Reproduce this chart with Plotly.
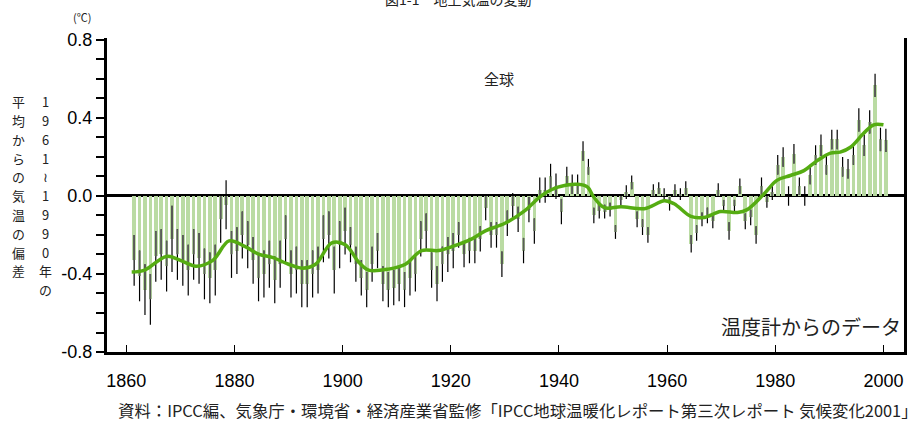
import plotly.graph_objects as go

# ---------------- data ----------------
years = list(range(1861, 2001))
anomaly = [
    -0.33, -0.41, -0.48, -0.53, -0.31, -0.30, -0.36, -0.22, -0.30, -0.33,   # 1861-1870
    -0.38, -0.30, -0.32, -0.40, -0.42, -0.38, -0.12, -0.045, -0.30, -0.28,  # 1871-1880
    -0.20, -0.25, -0.33, -0.42, -0.40, -0.35, -0.43, -0.35, -0.22, -0.40,   # 1881-1890
    -0.38, -0.45, -0.45, -0.40, -0.38, -0.22, -0.20, -0.38, -0.25, -0.18,   # 1891-1900
    -0.25, -0.35, -0.42, -0.48, -0.35, -0.28, -0.45, -0.48, -0.47, -0.45,   # 1901-1910
    -0.48, -0.42, -0.40, -0.22, -0.18, -0.38, -0.45, -0.35, -0.30, -0.28,   # 1911-1920
    -0.20, -0.30, -0.28, -0.28, -0.22, -0.06, -0.20, -0.20, -0.35, -0.14,   # 1921-1930
    -0.05, -0.12, -0.28, -0.07, -0.18, 0.03, 0.03, 0.10, 0.05, -0.08,       # 1931-1940
    0.10, 0.06, 0.06, 0.23, 0.15, -0.10, -0.075, -0.08, -0.07, -0.185,      # 1941-1950
    -0.02, 0.02, 0.07, -0.12, -0.16, -0.20, 0.03, 0.04, 0.01, -0.04,        # 1951-1960
    0.03, 0.01, 0.04, -0.245, -0.19, -0.12, -0.10, -0.13, 0.03, -0.05,      # 1961-1970
    -0.18, -0.05, 0.05, -0.13, -0.11, -0.20, 0.05, -0.03, 0.02, 0.16,       # 1971-1980
    0.20, 0.00, 0.216, 0.05, 0.00, 0.11, 0.21, 0.26, 0.16, 0.29,            # 1981-1990
    0.29, 0.15, 0.14, 0.21, 0.39, 0.26, 0.38, 0.567, 0.29, 0.285,           # 1991-2000
]
uncert = [
    0.13, 0.13, 0.13, 0.13, 0.13, 0.13, 0.13, 0.17, 0.13, 0.13,   # 1861-1870
    0.13, 0.13, 0.13, 0.13, 0.13, 0.13, 0.12, 0.125, 0.12, 0.12,  # 1871-1880
    0.12, 0.12, 0.12, 0.12, 0.12, 0.12, 0.12, 0.12, 0.12, 0.12,   # 1881-1890
    0.12, 0.12, 0.12, 0.12, 0.12, 0.12, 0.12, 0.12, 0.12, 0.12,   # 1891-1900
    0.09, 0.09, 0.09, 0.09, 0.09, 0.09, 0.09, 0.09, 0.09, 0.09,   # 1901-1910
    0.09, 0.09, 0.09, 0.09, 0.09, 0.09, 0.09, 0.09, 0.09, 0.09,   # 1911-1920
    0.065, 0.065, 0.065, 0.065, 0.065, 0.065, 0.065, 0.065, 0.065, 0.065,  # 1921-1930
    0.065, 0.065, 0.065, 0.065, 0.065, 0.065, 0.065, 0.065, 0.065, 0.065,  # 1931-1940
    0.05, 0.05, 0.05, 0.05, 0.04, 0.04, 0.04, 0.035, 0.035, 0.035,         # 1941-1950
    0.03, 0.035, 0.035, 0.04, 0.04, 0.04, 0.03, 0.03, 0.03, 0.035,         # 1951-1960
    0.03, 0.03, 0.035, 0.045, 0.04, 0.035, 0.04, 0.035, 0.035, 0.03,       # 1961-1970
    0.045, 0.03, 0.04, 0.04, 0.04, 0.045, 0.045, 0.03, 0.04, 0.05,         # 1971-1980
    0.05, 0.05, 0.05, 0.045, 0.05, 0.05, 0.05, 0.055, 0.05, 0.05,          # 1981-1990
    0.05, 0.05, 0.05, 0.05, 0.06, 0.055, 0.06, 0.06, 0.06, 0.06,           # 1991-2000
]
smooth_years = [1861, 1863.4, 1867.4, 1870, 1872.9, 1876, 1879, 1882, 1884.6, 1887,
                1890, 1892.5, 1895, 1898, 1900.5, 1903, 1904.8, 1908.5, 1911.6, 1914.6,
                1917.7, 1920.2, 1923.9, 1926.3, 1930, 1933.7, 1936.7, 1939.8, 1943.5,
                1945.3, 1946.3, 1948.4, 1951.5, 1955.8, 1959.5, 1961.3, 1964.4, 1966.8,
                1969.9, 1973, 1974.8, 1977.9, 1980.3, 1982.8, 1985.3, 1987.7, 1990.2,
                1992, 1993.9, 1996.3, 1998.2, 2000]
smooth_vals = [-0.39, -0.38, -0.31, -0.33, -0.36, -0.33, -0.23, -0.26, -0.30, -0.315,
               -0.35, -0.37, -0.35, -0.24, -0.25, -0.34, -0.38, -0.375, -0.35, -0.28,
               -0.28, -0.26, -0.22, -0.18, -0.14, -0.075, 0.0, 0.045, 0.06,
               0.045, 0.0, -0.06, -0.055, -0.065, -0.025, -0.04, -0.105, -0.11,
               -0.08, -0.085, -0.07, 0.01, 0.08, 0.105, 0.13, 0.18, 0.22,
               0.225, 0.25, 0.32, 0.365, 0.365]

x_ticks = [1860, 1880, 1900, 1920, 1940, 1960, 1980, 2000]
y_ticks = [-0.8, -0.4, 0.0, 0.4, 0.8]
y_tick_text = ["-0.8", "-0.4", "0.0", "0.4", "0.8"]

# ---------------- derived error segments ----------------
bar_x = [y + 0.45 for y in years]
err_x, err_y = [], []
in_x, in_y = [], []
for xv, v, e in zip(bar_x, anomaly, uncert):
    lo, hi = v - e, v + e
    err_x += [xv, xv, None]
    err_y += [lo, hi, None]
    b0, b1 = min(0.0, v), max(0.0, v)
    s0, s1 = max(lo, b0), min(hi, b1)
    if s1 > s0:
        in_x += [xv, xv, None]
        in_y += [s0, s1, None]

fig = go.Figure()
fig.add_trace(go.Bar(x=bar_x, y=anomaly, width=0.68, marker=dict(color="#badba3", line=dict(width=0)),
                     hoverinfo="skip"))
fig.add_trace(go.Scatter(x=err_x, y=err_y, mode="lines", line=dict(color="#000000", width=1.2),
                         hoverinfo="skip"))
fig.add_trace(go.Scatter(x=in_x, y=in_y, mode="lines", line=dict(color="#5c5c5c", width=1.6),
                         hoverinfo="skip"))
fig.add_trace(go.Scatter(x=smooth_years, y=smooth_vals, mode="lines",
                         line=dict(color="#55ac12", width=3.5, shape="spline", smoothing=1.0),
                         hoverinfo="skip"))

num_font = "Liberation Sans, Arial, Noto Sans CJK JP, sans-serif"
jp_font = "Noto Sans CJK JP, sans-serif"

fig.update_layout(
    width=917, height=423,
    margin=dict(l=107, r=10, t=38, b=71),
    paper_bgcolor="white", plot_bgcolor="white",
    showlegend=False, bargap=0,
    xaxis=dict(range=[1856.43, 2003.8], tickvals=x_ticks, ticktext=[str(v) for v in x_ticks],
               ticks="inside", ticklen=7, tickwidth=1, tickcolor="black",
               showline=True, linewidth=3, linecolor="black", showgrid=False, zeroline=False,
               tickfont=dict(family=num_font, size=18, color="black"), ticklabelstandoff=10),
    yaxis=dict(range=[-0.8, 0.81], tickvals=y_ticks, ticktext=y_tick_text,
               ticks="outside", ticklen=8, tickwidth=1.5, tickcolor="black",
               minor=dict(dtick=0.1, ticks="outside", ticklen=8, tickwidth=1.5, tickcolor="black",
                          showgrid=False),
               showline=True, linewidth=3, linecolor="black", mirror=True, showgrid=False,
               zeroline=True, zerolinewidth=3, zerolinecolor="black",
               tickfont=dict(family=num_font, size=18, color="black")),
)


def px(xp):
    return (xp - 107) / 800


def py(yp):
    return (352 - yp) / 314


ann = []
ann.append(dict(text="図1-1　地上気温の変動", x=px(459), y=py(-1), xref="paper", yref="paper",
                xanchor="center", yanchor="middle", showarrow=False,
                font=dict(family=jp_font, size=14, color="#222")))
ann.append(dict(text="(℃)", x=px(82), y=py(17), xref="paper", yref="paper",
                xanchor="center", yanchor="middle", showarrow=False,
                font=dict(family=jp_font, size=11, color="#222")))
col_left = ["平", "均", "か", "ら", "の", "気", "温", "の", "偏", "差"]
col_right = ["1", "9", "6", "1", "≀", "1", "9", "9", "0", "年", "の"]
for i, ch in enumerate(col_left):
    ann.append(dict(text=ch, x=px(18.3), y=py(101.7 + i * 18.8), xref="paper", yref="paper",
                    xanchor="center", yanchor="middle", showarrow=False, borderpad=0,
                    font=dict(family=jp_font, size=12.9, color="#222")))
for i, ch in enumerate(col_right):
    ann.append(dict(text=ch, x=px(45), y=py(101.7 + i * 18.8), xref="paper", yref="paper",
                    xanchor="center", yanchor="middle", showarrow=False, borderpad=0,
                    font=dict(family=jp_font, size=12.9, color="#222")))
ann.append(dict(text="全球", x=px(500), y=py(78), xref="paper", yref="paper",
                xanchor="center", yanchor="middle", showarrow=False,
                font=dict(family=jp_font, size=15, color="#222")))
ann.append(dict(text="温度計からのデータ", x=px(813.5), y=py(326),
                xref="paper", yref="paper", xanchor="center", yanchor="middle", showarrow=False,
                font=dict(family=jp_font, size=20, color="#222")))
ann.append(dict(text="資料：IPCC編、気象庁・環境省・経済産業省監修「IPCC地球温暖化レポート第三次レポート 気候変化2001」",
                x=px(116), y=py(410), xref="paper", yref="paper",
                xanchor="left", yanchor="middle", showarrow=False,
                font=dict(family=jp_font, size=16.4, color="#222")))
fig.update_layout(annotations=ann)

fig.write_html("out.html", config={"displayModeBar": False},
               post_script="document.body.style.margin='0px';")
